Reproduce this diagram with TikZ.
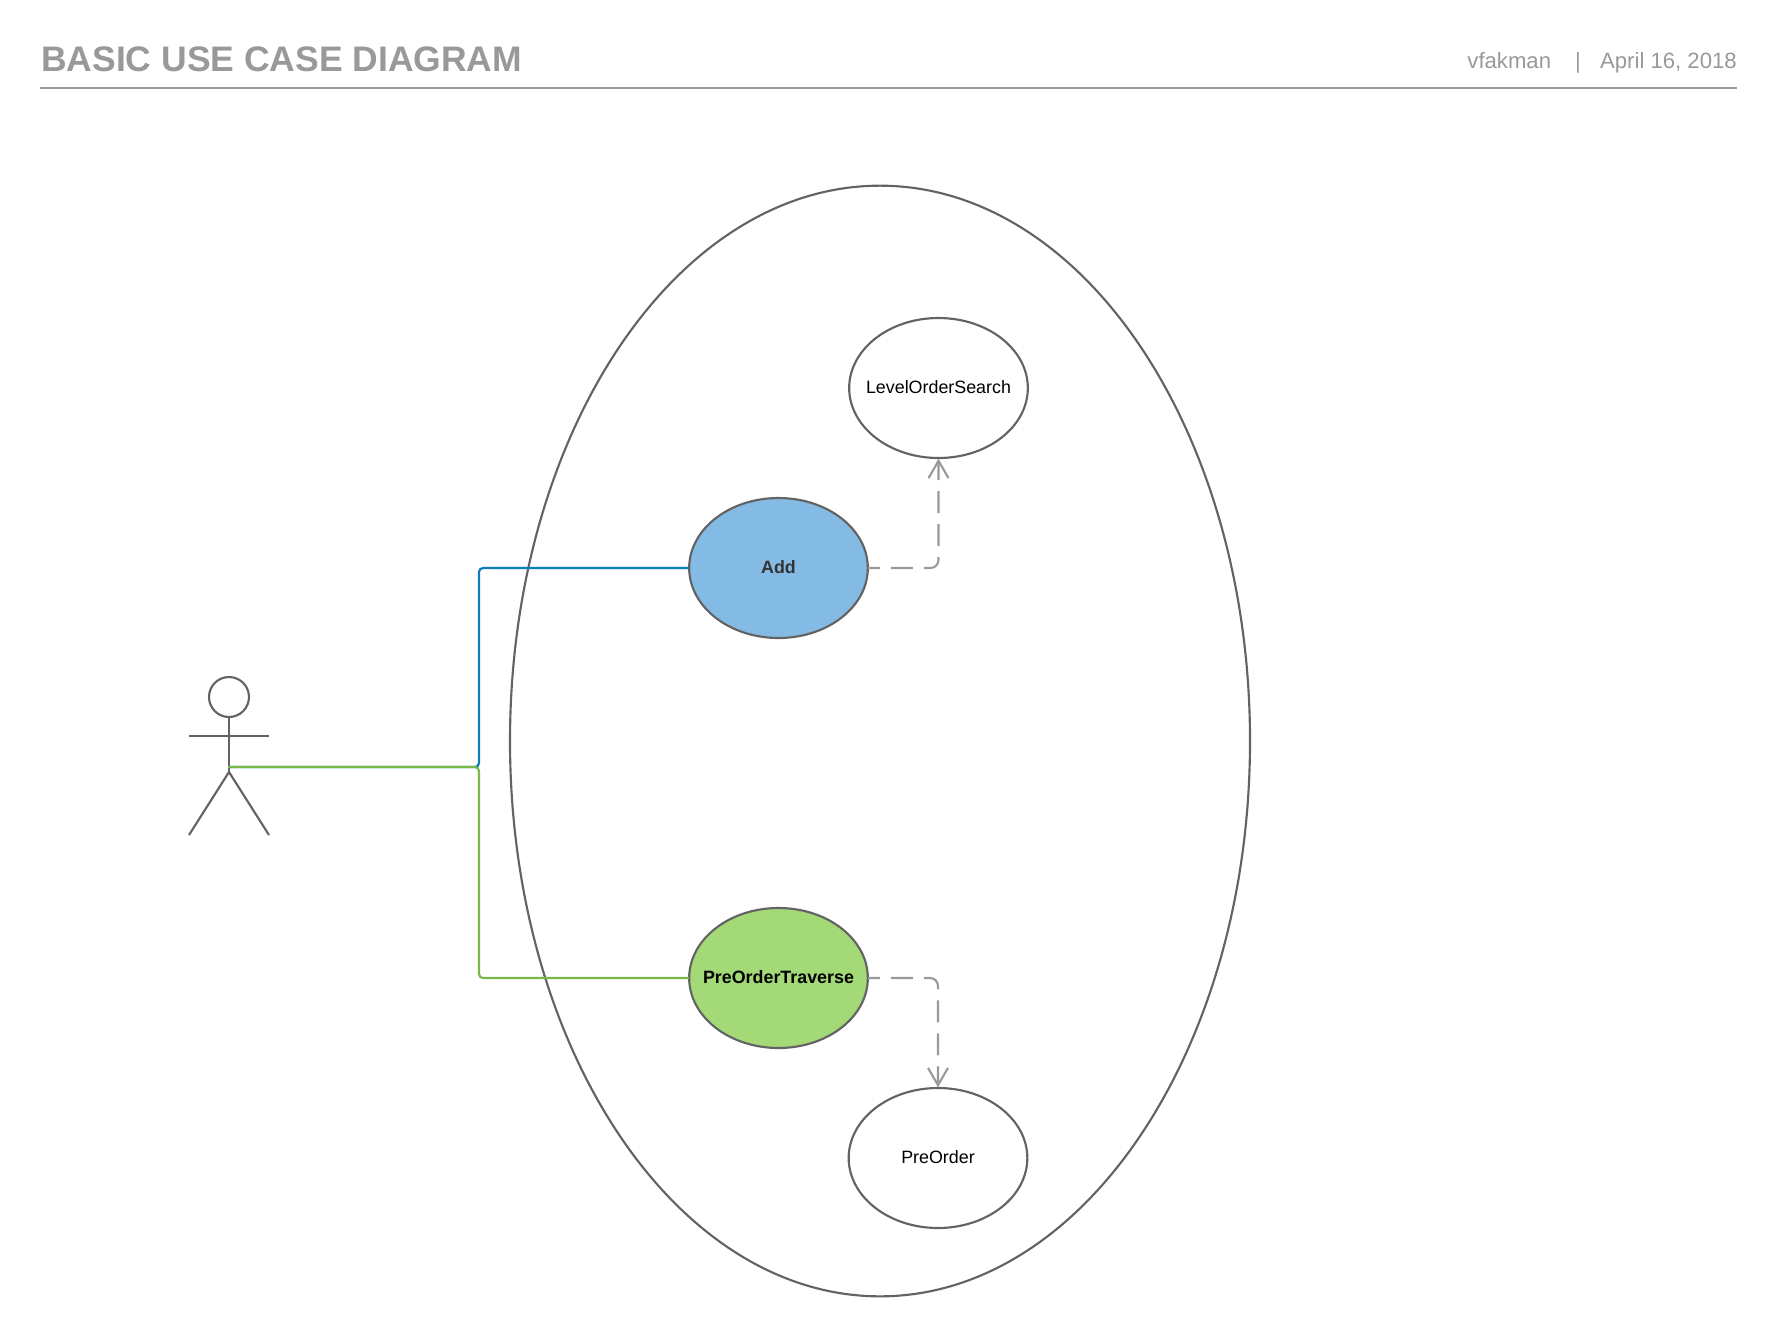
\documentclass[tikz,border=0pt]{standalone}
\usepackage{fontspec}
\setmainfont{Liberation Sans}
\usetikzlibrary{arrows.meta}
\usetikzlibrary{shapes.geometric}
\definecolor{linegray}{HTML}{636363}
\definecolor{headgray}{HTML}{999999}
\definecolor{addblue}{HTML}{83BBE5}
\definecolor{travgreen}{HTML}{A3D977}
\definecolor{wireblue}{HTML}{0C7CBA}
\definecolor{wiregreen}{HTML}{7AB648}
\newcommand*{\CaseText}[1]{\makebox[0pt]{\raisebox{1.2pt}{#1}}}
\tikzset{
	usecase/.style={ellipse, draw=linegray, line width=1.6pt, minimum width=134pt, minimum height=105pt, inner sep=0pt, outer sep=0pt, font=\fontsize{13.4}{16}\selectfont},
	wire/.style={line width=1.6pt, rounded corners=3pt},
	depends/.style={draw=headgray, line width=1.6pt, rounded corners=6pt, dash pattern=on 16.5pt off 8.25pt, dash phase=7.5pt, shorten >=0.5pt, -{Straight Barb[length=13pt,width=15pt,line width=1.6pt]}},
	stick/.style={draw=linegray, line width=1.6pt}
}

\begin{document}
\begin{tikzpicture}[x=0.75pt,y=-0.75pt]
	\useasboundingbox (0,0) rectangle (1777,1336);

	%Header
	\node[anchor=base west, inner sep=0pt, text=headgray, font=\fontsize{26.6}{30}\selectfont\bfseries] (title) at (41,71) {BASIC USE CASE DIAGRAM};
	\node[anchor=base east, inner sep=0pt, text=headgray, font=\fontsize{16.6}{20}\selectfont] (stamp) at (1737,68) {vfakman\hspace{18pt}|\hspace{14.5pt}April 16, 2018};
	\coordinate (ruleL) at (40,88);
	\coordinate (ruleR) at (1737,88);
	\draw[draw=headgray, line width=1.6pt] (ruleL) -- (ruleR);

	%System boundary
	\node[ellipse, draw=linegray, line width=1.6pt, minimum width=555pt, minimum height=833pt, inner sep=0pt, outer sep=0pt] (system) at (880,741) {};

	%Use cases
	\node[usecase, fill=addblue, text=black!80, font=\fontsize{13.4}{16}\selectfont\bfseries] (add) at (778.5,568) {\CaseText{Add}};
	\node[usecase, fill=travgreen, font=\fontsize{13.4}{16}\selectfont\bfseries] (traverse) at (778.5,978) {\CaseText{PreOrderTraverse}};
	\node[usecase] (search) at (938.5,388) {\CaseText{LevelOrderSearch}};
	\node[usecase] (preorder) at (938,1158) {\CaseText{PreOrder}};

	%Actor
	\node[circle, stick, minimum size=30pt, inner sep=0pt, outer sep=0pt] (head) at (229,697) {};
	\coordinate (hip) at (229,772);
	\coordinate (hand) at (189,736);
	\coordinate (handR) at (269,736);
	\coordinate (foot) at (189,835);
	\coordinate (footR) at (269,835);
	\coordinate (grip) at (228,767);
	\coordinate (bend) at (479,767);
	\draw[stick] (head.south) -- (hip);
	\draw[stick] (hand) -- (handR);
	\draw[stick] (foot) -- (hip) -- (footR);

	%Connectors
	\draw[wire, draw=wireblue] (add.west) -| (bend) -- (grip);
	\draw[wire, draw=wiregreen] (grip) -- (bend) |- (traverse.west);
	\draw[depends] (add.east) -| (search.south);
	\draw[depends] (traverse.east) -| (preorder.north);
\end{tikzpicture}
\end{document}
